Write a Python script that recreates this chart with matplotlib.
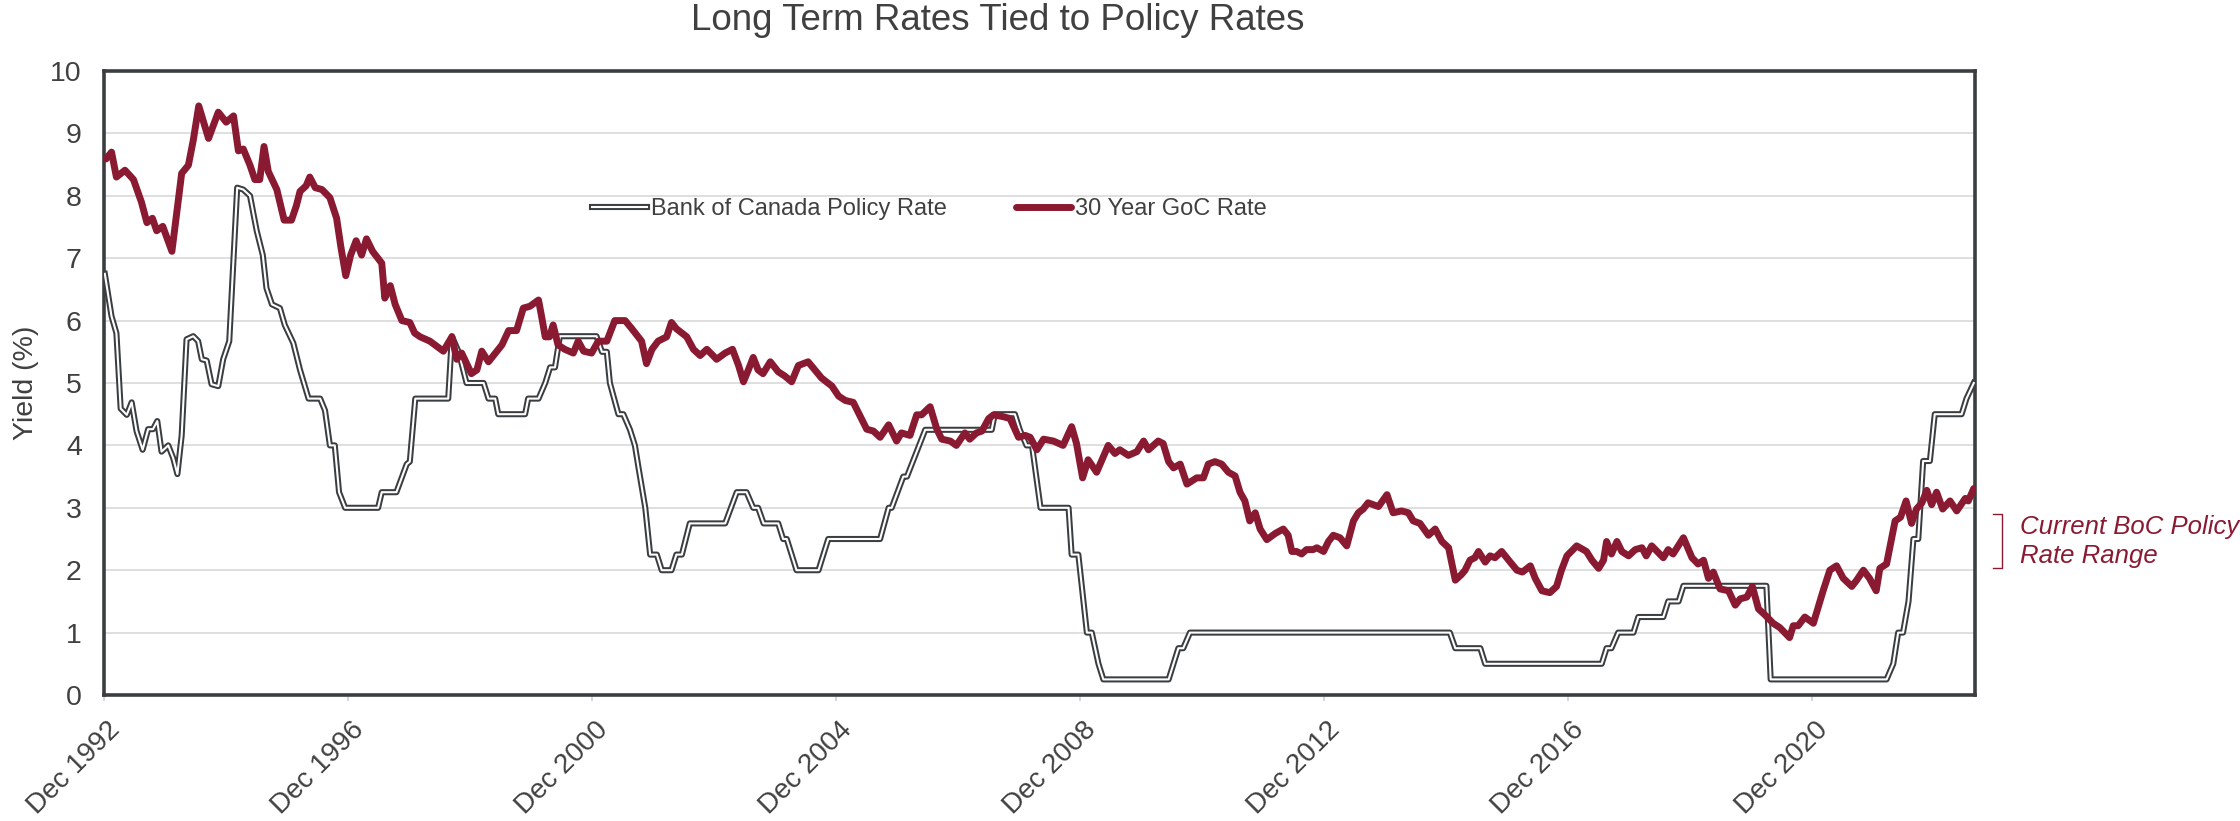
import matplotlib.pyplot as plt
import matplotlib.transforms as mtransforms

plt.rcParams["font.family"] = ["Liberation Sans", "DejaVu Sans"]

# Values (decimal years, % yield)
goc_year = [
    1992.95, 1993.04, 1993.12, 1993.26, 1993.40, 1993.53, 1993.62, 1993.71, 1993.78, 1993.88,
    1994.03, 1994.19, 1994.30, 1994.38, 1994.47, 1994.63, 1994.79, 1994.92, 1995.04, 1995.12,
    1995.20, 1995.31, 1995.39, 1995.47, 1995.54, 1995.61, 1995.75, 1995.87, 1995.99, 1996.07,
    1996.13, 1996.23, 1996.29, 1996.38, 1996.49, 1996.62, 1996.73, 1996.80, 1996.88, 1996.96,
    1997.05, 1997.14, 1997.22, 1997.32, 1997.47, 1997.52, 1997.61, 1997.69, 1997.80, 1997.93,
    1998.01, 1998.10, 1998.26, 1998.48, 1998.62, 1998.70, 1998.78, 1998.94, 1999.03, 1999.11,
    1999.22, 1999.44, 1999.55, 1999.68, 1999.79, 1999.90, 2000.04, 2000.09, 2000.15, 2000.22,
    2000.28, 2000.36, 2000.47, 2000.61, 2000.69, 2000.78, 2000.91, 2001.02, 2001.16, 2001.29,
    2001.46, 2001.57, 2001.65, 2001.73, 2001.81, 2001.90, 2002.00, 2002.14, 2002.22, 2002.30,
    2002.47, 2002.58, 2002.69, 2002.80, 2002.96, 2003.10, 2003.22, 2003.32, 2003.40, 2003.48,
    2003.56, 2003.64, 2003.72, 2003.84, 2003.97, 2004.08, 2004.19, 2004.30, 2004.46, 2004.57,
    2004.68, 2004.85, 2004.96, 2005.07, 2005.20, 2005.42, 2005.53, 2005.64, 2005.78, 2005.91,
    2005.99, 2006.13, 2006.24, 2006.32, 2006.46, 2006.57, 2006.65, 2006.79, 2006.89, 2007.03,
    2007.11, 2007.22, 2007.31, 2007.42, 2007.50, 2007.66, 2007.77, 2007.91, 2008.02, 2008.10,
    2008.21, 2008.32, 2008.48, 2008.64, 2008.78, 2008.86, 2008.96, 2009.05, 2009.19, 2009.38,
    2009.49, 2009.57, 2009.71, 2009.85, 2009.96, 2010.04, 2010.20, 2010.28, 2010.37, 2010.45,
    2010.56, 2010.67, 2010.72, 2010.83, 2010.94, 2011.02, 2011.13, 2011.24, 2011.35, 2011.46,
    2011.54, 2011.62, 2011.70, 2011.79, 2011.87, 2011.98, 2012.12, 2012.25, 2012.33, 2012.39,
    2012.47, 2012.55, 2012.63, 2012.74, 2012.80, 2012.91, 2012.99, 2013.07, 2013.18, 2013.29,
    2013.40, 2013.48, 2013.56, 2013.64, 2013.81, 2013.95, 2014.05, 2014.19, 2014.30, 2014.38,
    2014.49, 2014.63, 2014.74, 2014.85, 2014.96, 2015.07, 2015.17, 2015.23, 2015.31, 2015.39,
    2015.45, 2015.56, 2015.64, 2015.72, 2015.83, 2015.97, 2016.08, 2016.17, 2016.30, 2016.38,
    2016.49, 2016.62, 2016.73, 2016.81, 2016.90, 2017.06, 2017.22, 2017.31, 2017.42, 2017.50,
    2017.55, 2017.63, 2017.72, 2017.80, 2017.91, 2018.02, 2018.13, 2018.20, 2018.29, 2018.38,
    2018.48, 2018.56, 2018.64, 2018.81, 2018.95, 2019.05, 2019.14, 2019.22, 2019.30, 2019.41,
    2019.55, 2019.66, 2019.74, 2019.85, 2019.94, 2020.04, 2020.15, 2020.28, 2020.39, 2020.55,
    2020.61, 2020.69, 2020.80, 2020.94, 2021.10, 2021.21, 2021.32, 2021.43, 2021.57, 2021.65,
    2021.76, 2021.86, 2021.97, 2022.03, 2022.14, 2022.28, 2022.37, 2022.46, 2022.55, 2022.63,
    2022.72, 2022.80, 2022.88, 2022.96, 2023.06, 2023.18, 2023.29, 2023.43, 2023.48, 2023.57,
]
goc_yield = [
    8.59, 8.70, 8.30, 8.41, 8.26, 7.90, 7.57, 7.64, 7.44, 7.51,
    7.11, 8.36, 8.49, 8.89, 9.44, 8.92, 9.34, 9.18, 9.28, 8.72,
    8.75, 8.49, 8.26, 8.26, 8.79, 8.39, 8.10, 7.61, 7.61, 7.84,
    8.07, 8.16, 8.30, 8.13, 8.10, 7.97, 7.64, 7.18, 6.72, 7.05,
    7.28, 7.05, 7.31, 7.11, 6.92, 6.36, 6.56, 6.26, 6.00, 5.97,
    5.80, 5.74, 5.67, 5.51, 5.74, 5.38, 5.48, 5.15, 5.21, 5.51,
    5.34, 5.61, 5.84, 5.84, 6.20, 6.23, 6.33, 6.07, 5.74, 5.74,
    5.93, 5.61, 5.54, 5.48, 5.67, 5.51, 5.48, 5.67, 5.67, 6.00,
    6.00, 5.87, 5.77, 5.67, 5.31, 5.54, 5.67, 5.74, 5.97, 5.87,
    5.74, 5.54, 5.44, 5.54, 5.38, 5.48, 5.54, 5.28, 5.02, 5.21,
    5.41, 5.21, 5.15, 5.34, 5.18, 5.11, 5.02, 5.28, 5.34, 5.21,
    5.08, 4.95, 4.79, 4.72, 4.69, 4.26, 4.23, 4.13, 4.33, 4.07,
    4.20, 4.16, 4.49, 4.49, 4.62, 4.26, 4.10, 4.07, 4.00, 4.20,
    4.10, 4.20, 4.23, 4.43, 4.49, 4.46, 4.43, 4.13, 4.16, 4.13,
    3.93, 4.10, 4.07, 4.00, 4.30, 4.03, 3.48, 3.77, 3.57, 4.00,
    3.87, 3.93, 3.84, 3.90, 4.07, 3.93, 4.07, 4.03, 3.74, 3.64,
    3.70, 3.38, 3.41, 3.48, 3.48, 3.70, 3.74, 3.70, 3.57, 3.51,
    3.25, 3.11, 2.79, 2.92, 2.66, 2.49, 2.59, 2.66, 2.56, 2.30,
    2.30, 2.26, 2.33, 2.33, 2.36, 2.30, 2.46, 2.56, 2.52, 2.39,
    2.79, 2.92, 2.98, 3.08, 3.02, 3.21, 2.92, 2.95, 2.92, 2.79,
    2.75, 2.56, 2.66, 2.46, 2.36, 1.84, 1.93, 2.00, 2.16, 2.20,
    2.30, 2.13, 2.23, 2.20, 2.30, 2.13, 2.00, 1.97, 2.07, 1.87,
    1.67, 1.64, 1.74, 2.00, 2.23, 2.39, 2.30, 2.16, 2.03, 2.16,
    2.46, 2.26, 2.46, 2.30, 2.23, 2.33, 2.36, 2.23, 2.39, 2.30,
    2.20, 2.33, 2.26, 2.52, 2.20, 2.10, 2.16, 1.87, 1.97, 1.70,
    1.67, 1.44, 1.54, 1.57, 1.74, 1.38, 1.28, 1.15, 1.08, 0.92,
    1.11, 1.11, 1.25, 1.15, 1.67, 2.00, 2.07, 1.87, 1.74, 1.84,
    2.00, 1.87, 1.67, 2.03, 2.10, 2.79, 2.85, 3.11, 2.75, 2.98,
    3.08, 3.28, 3.05, 3.25, 2.98, 3.11, 2.95, 3.15, 3.11, 3.31,
]

boc_year = [
    1992.93, 1993.04, 1993.12, 1993.19, 1993.29, 1993.37, 1993.45, 1993.55, 1993.64, 1993.72,
    1993.79, 1993.86, 1993.97, 1994.05, 1994.12, 1994.19, 1994.27, 1994.38, 1994.46, 1994.52,
    1994.60, 1994.68, 1994.79, 1994.87, 1994.97, 1995.04, 1995.10, 1995.20, 1995.31, 1995.42,
    1995.52, 1995.58, 1995.67, 1995.80, 1995.88, 1996.02, 1996.13, 1996.27, 1996.46, 1996.54,
    1996.62, 1996.70, 1996.77, 1996.87, 1997.41, 1997.47, 1997.71, 1997.88, 1997.93, 1998.02,
    1998.56, 1998.62, 1998.73, 1998.86, 1999.14, 1999.22, 1999.33, 1999.38, 1999.82, 1999.87,
    2000.04, 2000.15, 2000.23, 2000.31, 2000.39, 2000.99, 2001.08, 2001.16, 2001.21, 2001.35,
    2001.43, 2001.54, 2001.62, 2001.68, 2001.79, 2001.87, 2001.98, 2002.06, 2002.22, 2002.30,
    2002.39, 2002.52, 2003.10, 2003.29, 2003.45, 2003.56, 2003.64, 2003.73, 2003.97, 2004.05,
    2004.11, 2004.27, 2004.63, 2004.79, 2005.64, 2005.78, 2005.83, 2006.02, 2006.08, 2006.38,
    2007.47, 2007.52, 2007.85, 2007.93, 2008.04, 2008.13, 2008.27, 2008.73, 2008.78, 2008.89,
    2009.03, 2009.11, 2009.22, 2009.30, 2010.37, 2010.53, 2010.61, 2010.72, 2014.98, 2015.07,
    2015.48, 2015.56, 2017.47, 2017.55, 2017.63, 2017.74, 2017.99, 2018.07, 2018.48, 2018.56,
    2018.73, 2018.81, 2020.17, 2020.24, 2022.14, 2022.25, 2022.33, 2022.41, 2022.50, 2022.58,
    2022.66, 2022.74, 2022.85, 2022.93, 2023.37, 2023.45, 2023.57,
]
boc_rate = [
    6.75, 6.07, 5.80, 4.59, 4.49, 4.69, 4.23, 3.93, 4.26, 4.26,
    4.39, 3.90, 4.00, 3.80, 3.54, 4.16, 5.70, 5.75, 5.67, 5.38,
    5.36, 4.98, 4.95, 5.38, 5.67, 6.98, 8.13, 8.10, 8.00, 7.44,
    7.05, 6.52, 6.26, 6.20, 5.93, 5.64, 5.21, 4.75, 4.75, 4.56,
    4.00, 4.00, 3.25, 3.00, 3.00, 3.25, 3.25, 3.70, 3.74, 4.75,
    4.75, 5.75, 5.50, 5.00, 5.00, 4.75, 4.75, 4.50, 4.50, 4.75,
    4.75, 5.00, 5.25, 5.25, 5.75, 5.75, 5.50, 5.50, 5.00, 4.50,
    4.50, 4.25, 4.00, 3.64, 3.00, 2.25, 2.25, 2.00, 2.00, 2.25,
    2.25, 2.75, 2.75, 3.25, 3.25, 3.00, 3.00, 2.75, 2.75, 2.50,
    2.50, 2.00, 2.00, 2.50, 2.50, 3.00, 3.00, 3.50, 3.50, 4.25,
    4.25, 4.50, 4.50, 4.25, 4.00, 4.00, 3.00, 3.00, 2.25, 2.25,
    1.00, 1.00, 0.50, 0.25, 0.25, 0.75, 0.75, 1.00, 1.00, 0.75,
    0.75, 0.50, 0.50, 0.75, 0.75, 1.00, 1.00, 1.25, 1.25, 1.50,
    1.50, 1.75, 1.75, 0.25, 0.25, 0.50, 1.00, 1.00, 1.50, 2.50,
    2.50, 3.75, 3.75, 4.50, 4.50, 4.75, 5.00,
]

tick_years = [1992, 1996, 2000, 2004, 2008, 2012, 2016, 2020]

maroon = "#8a1a32"
dark = "#3b3e41"
text_col = "#404040"

fig = plt.figure(figsize=(22.4, 8.21), dpi=100)
ax = fig.add_axes([0.04643, 0.15347, 0.83527, 0.76005])

# policy rate as a "double" line: dark outline with white core
boc_outer, = ax.plot(boc_year, boc_rate, color=dark, lw=4.4, zorder=3)
boc_inner, = ax.plot(boc_year, boc_rate, color="white", lw=1.5, zorder=3.1)
goc_line, = ax.plot(goc_year, goc_yield, color=maroon, lw=5.0, zorder=4,
                    solid_joinstyle="round", solid_capstyle="round")

ax.set_xlim(1992 + 11 / 12, 2023.59)
ax.set_ylim(0, 10)
ax.set_yticks(range(0, 11))
ax.grid(axis="y", color="#dcdcdc", lw=1.3)
ax.set_axisbelow(True)

ax.set_xticks([y + 11 / 12 for y in tick_years])
ax.set_xticklabels([f"Dec {y}" for y in tick_years], rotation=45, ha="right",
                   va="top", rotation_mode="anchor")
ax.tick_params(axis="x", length=4.5, width=1.2, color="#d0d0d0", pad=11,
               labelsize=20, labelcolor=text_col)
ax.tick_params(axis="y", length=0, pad=16, labelsize=20.5, labelcolor=text_col)
for lab in ax.get_xticklabels():
    lab.set_transform(lab.get_transform() +
                      mtransforms.ScaledTranslation(2 / 72, 0, fig.dpi_scale_trans))

for side in ["top", "left", "right", "bottom"]:
    ax.spines[side].set_color(dark)
    ax.spines[side].set_linewidth(2.6)

ax.set_ylabel("Yield (%)", fontsize=20.5, color=text_col)
ax.yaxis.set_label_coords(-0.0347, 0.5)

fig.text(0.4455, 0.9756, "Long Term Rates Tied to Policy Rates", ha="center",
         va="center", fontsize=26.5, color=text_col)

leg = ax.legend(handles=[(boc_outer, boc_inner), goc_line],
                labels=["Bank of Canada Policy Rate", "30 Year GoC Rate"],
                ncol=2, frameon=False, fontsize=17, handlelength=2.33,
                handletextpad=0.15, columnspacing=2.95, loc="center left",
                bbox_to_anchor=(0.2608, 0.7788), borderaxespad=0, borderpad=0)
for t in leg.get_texts():
    t.set_color(text_col)

# bracket + note on the right of the plot
trans = mtransforms.blended_transform_factory(ax.transAxes, ax.transData)
ax.plot([1.0096, 1.0144, 1.0144, 1.0096], [2.90, 2.90, 2.04, 2.04], color=maroon,
        lw=1.0, transform=trans, clip_on=False)
ax.text(1.024, 2.455, "Current BoC Policy\nRate Range", transform=trans,
        color=maroon, fontsize=18.5, style="italic", ha="left", va="center",
        linespacing=1.25, clip_on=False)

fig.savefig("out.png", dpi=100)
